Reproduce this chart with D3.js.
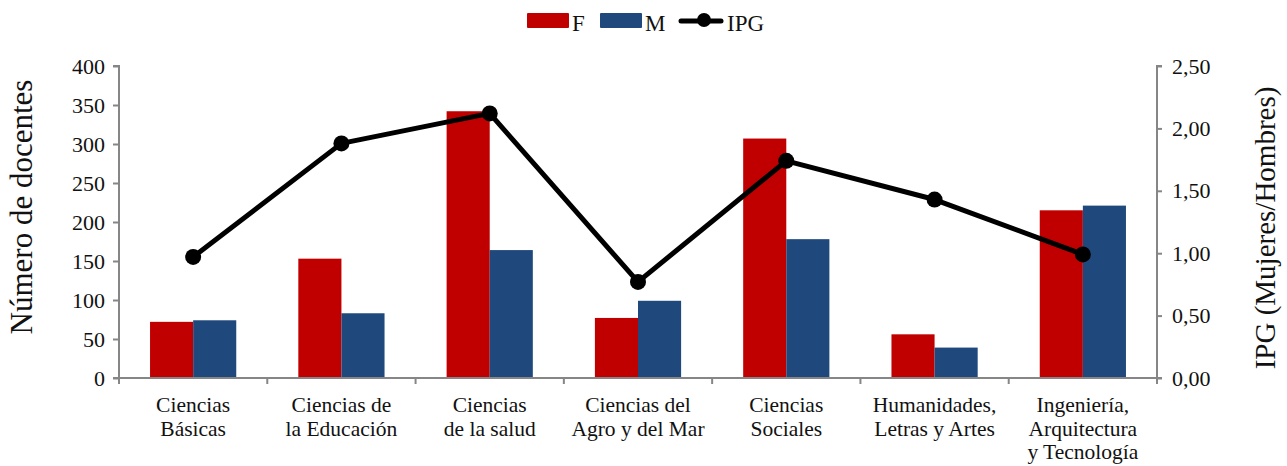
<!DOCTYPE html>
<html>
<head>
<meta charset="utf-8">
<script src="https://cdn.jsdelivr.net/npm/d3@7"></script>
<style>
  body { margin: 0; background: #fff; }
  svg text { font-family: 'Liberation Serif', 'DejaVu Serif', serif !important; fill: #111; }
</style>
</head>
<body>
<div id="root"></div>
<script>
'use strict';

const categories = [
  ['Ciencias', 'Básicas'],
  ['Ciencias de', 'la Educación'],
  ['Ciencias', 'de la salud'],
  ['Ciencias del', 'Agro y del Mar'],
  ['Ciencias', 'Sociales'],
  ['Humanidades,', 'Letras y Artes'],
  ['Ingeniería,', 'Arquitectura', 'y Tecnología']
];
const valuesF = [72, 153, 342, 77, 307, 56, 215];
const valuesM = [74, 83, 164, 99, 178, 39, 221];
const valuesIPG = [0.97, 1.88, 2.12, 0.77, 1.74, 1.43, 0.99];
const leftTicks = [0, 50, 100, 150, 200, 250, 300, 350, 400];
const rightTicks = [0, 0.5, 1, 1.5, 2, 2.5];

const Root = document.querySelector('#root');
const SERIF = "'Liberation Serif', 'DejaVu Serif', serif";

function draw() {
  const    w = 1287,
           h = 466,
        left = 119,
       right = 1157,
         top = 66,
      bottom = 378,

         svg = d3.select(Root)
                 .append('svg')
                 .attr('width', w)
                 .attr('height', h)
                 .attr('font-family', SERIF),

      xScale = d3.scaleBand()
                 .domain(d3.range(categories.length))
                 .range([left, right]),

      inner = d3.scaleBand()
                 .domain(['F', 'M'])
                 .range([0, xScale.bandwidth()])
                 .paddingOuter(0.72)
                 .paddingInner(0),

      yLeft = d3.scaleLinear().domain([0, 400]).range([bottom, top]),
     yRight = d3.scaleLinear().domain([0, 2.5]).range([bottom, top]),
      color = { F: '#C00000', M: '#1F497D' },
       gray = '#868686';

  // bars
  const groups = svg.selectAll('g.cat')
                    .data(categories.map((c, i) => i))
                    .enter()
                    .append('g')
                    .attr('class', 'cat')
                    .attr('transform', (i) => 'translate(' + xScale(i) + ',0)');

  groups.append('rect')
        .attr('x', inner('F'))
        .attr('y', (i) => yLeft(valuesF[i]))
        .attr('width', inner.bandwidth())
        .attr('height', (i) => bottom - yLeft(valuesF[i]))
        .attr('fill', color.F);

  groups.append('rect')
        .attr('x', inner('M'))
        .attr('y', (i) => yLeft(valuesM[i]))
        .attr('width', inner.bandwidth())
        .attr('height', (i) => bottom - yLeft(valuesM[i]))
        .attr('fill', color.M);

  // axes
  const yAxisL = d3.axisLeft(yLeft).tickValues(leftTicks).tickSize(6).tickPadding(8),
        yAxisR = d3.axisRight(yRight).tickValues(rightTicks).tickSize(5).tickPadding(10)
                   .tickFormat((d) => d3.format('.2f')(d).replace('.', ',')),
        xAxis  = d3.axisBottom(xScale).tickSize(0).tickFormat('');

  function styleAxis(g) {
    g.attr('font-family', SERIF);
    g.select('.domain').attr('stroke', gray).attr('stroke-width', 2);
    g.selectAll('.tick line').attr('stroke', gray).attr('stroke-width', 2);
    g.selectAll('.tick text').style('font-size', '22px').style('font-family', SERIF).attr('fill', '#111');
  }

  svg.append('g')
     .attr('transform', 'translate(' + left + ',0)')
     .call(yAxisL)
     .call(styleAxis)
     .call((g) => g.select('.domain').attr('d', 'M-6,' + top + 'H0V' + bottom + 'H-6'));

  svg.append('g')
     .attr('transform', 'translate(' + right + ',0)')
     .call(yAxisR)
     .call(styleAxis)
     .call((g) => g.select('.domain').attr('d', 'M5,' + top + 'H0V' + bottom + 'H5'));

  svg.append('g')
     .attr('transform', 'translate(0,' + bottom + ')')
     .call(xAxis)
     .call(styleAxis)
     .call((g) => g.select('.domain').attr('d', 'M' + left + ',0H' + right));

  // category boundary ticks
  svg.selectAll('line.sep')
     .data(d3.range(categories.length + 1))
     .enter()
     .append('line')
     .attr('x1', (i) => left + i * xScale.step())
     .attr('x2', (i) => left + i * xScale.step())
     .attr('y1', bottom)
     .attr('y2', bottom + 6)
     .attr('stroke', gray)
     .attr('stroke-width', 2);

  // category labels
  const labels = svg.selectAll('text.cat')
                    .data(categories)
                    .enter()
                    .append('text')
                    .attr('class', 'cat')
                    .attr('text-anchor', 'middle')
                    .style('font-size', '21.5px')
                    .style('font-family', SERIF);
  labels.each(function(d, i) {
    d3.select(this).selectAll('tspan')
      .data(d)
      .enter()
      .append('tspan')
      .attr('x', xScale(i) + xScale.bandwidth() / 2)
      .attr('y', (t, j) => 412 + j * 23.5)
      .text((t) => t);
  });

  // IPG line
  const cx = (i) => xScale(i) + xScale.bandwidth() / 2;
  svg.append('path')
     .datum(valuesIPG)
     .attr('fill', 'none')
     .attr('stroke', '#000')
     .attr('stroke-width', 5)
     .attr('stroke-linejoin', 'round')
     .attr('d', d3.line().x((d, i) => cx(i)).y((d) => yRight(d)));

  svg.selectAll('circle.ipg')
     .data(valuesIPG)
     .enter()
     .append('circle')
     .attr('cx', (d, i) => cx(i))
     .attr('cy', (d) => yRight(d))
     .attr('r', 8)
     .attr('fill', '#000');

  // axis titles
  svg.append('text')
     .attr('transform', 'translate(32,207) rotate(-90)')
     .attr('text-anchor', 'middle')
     .style('font-size', '31px')
     .text('Número de docentes');

  svg.append('text')
     .attr('transform', 'translate(1275,' + ((top + bottom) / 2 + 6) + ') rotate(-90)')
     .attr('text-anchor', 'middle')
     .style('font-size', '29px')
     .text('IPG (Mujeres/Hombres)');

  // legend
  const legend = svg.append('g');
  legend.append('rect').attr('x', 527).attr('y', 13).attr('width', 42).attr('height', 15).attr('rx', 1).attr('fill', color.F);
  legend.append('text').attr('x', 572).attr('y', 31).style('font-size', '23px').text('F');
  legend.append('rect').attr('x', 600).attr('y', 13).attr('width', 42).attr('height', 15).attr('rx', 1).attr('fill', color.M);
  legend.append('text').attr('x', 645).attr('y', 31).style('font-size', '23px').text('M');
  legend.append('line').attr('x1', 681).attr('x2', 721).attr('y1', 21).attr('y2', 21).attr('stroke', '#000').attr('stroke-width', 5).attr('stroke-linecap', 'round');
  legend.append('circle').attr('cx', 704).attr('cy', 20).attr('r', 7).attr('fill', '#000');
  legend.append('text').attr('x', 727).attr('y', 31).style('font-size', '23px').text('IPG');
}

draw();
</script>
</body>
</html>
